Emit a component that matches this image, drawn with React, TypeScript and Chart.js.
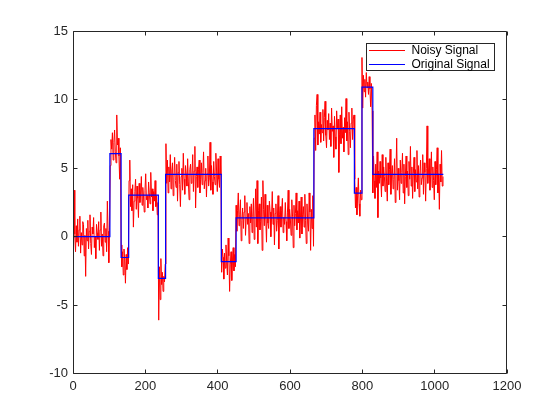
import React, { useEffect, useRef } from "react";
import { Chart, registerables } from "chart.js";

Chart.register(...registerables);

// ---- data ----
const xTickValues = [0, 200, 400, 600, 800, 1000, 1200];
const yTickValues = [-10, -5, 0, 5, 10, 15];

// original (piecewise constant) signal: level holds from each break to the next
const originalBreaks = [1, 102, 133, 154, 236, 256, 410, 451, 666, 778, 799, 829, 1024];
const originalLevels = [0, 6.08, -1.52, 3.04, -3.04, 4.56, -1.82, 1.37, 7.9, 3.19, 10.94, 4.56, 4.56];

// noisy signal, sampled every 2nd index starting at 1
const noisyStart = 1;
const noisyStep = 2;
const noisyValues = [
  // level 0
  -2.3, 3.4, 0.2, -1.1, 0.8, -0.4, 1.3, -0.7, 0.5, 1.5, -1.2, 0.3, -0.6, 1.1, 0.9, -1.4, 0.1, -2.9, 0.6, -0.3,
  1.2, -0.9, 0.4, 1.6, -0.5, -1.3, 0.7, 0.2, 1.4, -0.8, 0.0, -1.6, 0.9, 0.3, -0.2, 1.1, -1.0, 0.5, 1.8, -0.7,
  0.2, -1.4, 0.8, 1.0, -0.4, 0.6, -1.1, 2.6, 0.4, -1.9, 0.7,
  // level 6
  5.2, 7.1, 6.4, 7.6, 5.6, 6.9, 7.8, 6.2, 5.4, 8.9, 6.7, 7.2, 5.9, 4.2, 6.5,
  // level -1.5
  -0.6, -2.2, -1.1, -2.8, -0.9, -1.7, -3.4, -1.3, -2.4, -0.8, -2.0,
  // level 3
  4.1, 5.6, 2.2, 3.5, 1.9, 3.8, 0.7, 2.6, 3.3, 4.2, 2.0, 3.7, 2.8, 1.4, 3.9, 2.5, 3.1, 4.4, 2.3, 3.6,
  2.9, 1.8, 3.4, 4.6, 2.7, 3.0, 2.1, 4.0, 3.2, 2.4, 4.7, 2.9, 3.5, 1.9, 3.3, 2.6, 4.1, 2.2, 3.0, 1.6, 2.5,
  // level -3
  -6.1, -2.2, -4.6, -1.6, -3.5, -2.6, -4.0, -2.9, -3.3, -2.0,
  // level 4.5
  6.8, 3.9, 5.6, 3.2, 5.1, 4.0, 6.0, 3.5, 4.8, 5.4, 3.0, 4.3, 5.8, 4.1, 3.6, 5.3, 2.6, 4.7, 5.5, 3.8,
  2.2, 4.4, 5.0, 3.4, 6.1, 4.2, 3.1, 5.2, 4.6, 3.7, 5.7, 4.0, 2.7, 4.9, 5.3, 3.9, 4.5, 6.0, 3.3, 4.8,
  6.6, 2.1, 4.4, 5.1, 3.6, 4.9, 5.6, 3.2, 4.2, 5.4, 3.8, 4.7, 6.2, 3.5, 4.1, 5.0, 2.9, 4.6, 5.9, 3.7,
  4.3, 6.9, 3.4, 5.2, 4.0, 3.1, 5.5, 4.4, 3.8, 6.1, 4.8, 3.3, 5.7, 4.2, 3.6, 5.9, 4.5,
  // level -1.8
  -2.6, -0.9, -1.5, -3.1, -1.2, -2.3, -0.6, -1.9, -2.8, -0.1, -1.4, -4.0, -2.0, -1.1, -3.2, -1.7, -0.8, -2.5, -1.3, -2.2,
  // level 1.4
  2.3, 0.4, 1.9, 3.2, 0.8, 1.6, 2.7, -0.3, 1.2, 2.1, 0.6, 1.8, 3.0, 0.1, 1.4, 2.5, 0.9, 1.7, -0.5, 2.2,
  1.0, 2.4, 0.3, 1.5, 2.8, -0.2, 1.3, 3.5, 0.7, 4.1, -0.5, 1.9, 2.4, 0.5, 1.1, 2.9, -1.0, 4.1, 2.0, 0.8,
  3.1, 1.4, -0.4, 2.3, 1.0, 0.6, 2.6, 1.8, 0.0, 1.5, 3.3, 0.9, 2.1, -0.6, 1.7, 2.4, 0.4, 1.2, 3.0, -0.9,
  1.6, 2.2, 0.7, 1.9, 2.8, 0.3, 1.4, 0.9, 2.5, 1.1, -0.3, 1.8, 3.4, 0.6, 2.0, 1.3, 0.1, 2.7, 1.5, -0.8,
  2.3, 0.8, 1.7, 3.2, 0.5, 1.9, 1.0, 2.6, -0.1, 1.4, 2.9, 0.2, 1.6, 2.2, 0.7, 3.1, 1.2, -0.5, 2.4, 1.0,
  0.4, 3.2, 1.8, -1.0, 2.0, 0.6, 3.0, -0.7,
  // level 7.9
  7.2, 8.9, 6.3, 9.6, 10.4, 6.7, 8.4, 7.5, 9.1, 6.9, 8.2, 7.6, 9.3, 7.0, 8.7, 9.9, 7.4, 6.5, 8.5, 7.8,
  9.0, 7.1, 8.3, 6.6, 9.4, 7.7, 8.1, 5.8, 8.8, 7.3, 6.4, 9.2, 7.9, 8.6, 4.7, 7.5, 8.9, 6.8, 9.5, 7.2,
  8.0, 6.2, 8.7, 7.6, 10.1, 7.0, 8.4, 6.0, 9.1, 7.7, 6.5, 8.3, 9.4, 7.1, 8.6, 8.9,
  // level 3.2
  4.2, 2.1, 3.6, 1.6, 3.0, 4.3, 2.4, 1.5, 3.4, 2.7,
  // level 10.9
  13.1, 9.4, 11.8, 10.6, 11.5, 10.2, 12.0, 10.9, 11.3, 10.4, 11.7, 10.8, 9.5, 11.2, 9.2,
  // level 4.5
  3.2, 5.9, 4.1, 2.8, 5.3, 3.6, 6.2, 1.4, 4.8, 3.9, 5.5, 4.3, 2.9, 6.0, 3.7, 5.1, 4.4, 3.3, 5.8, 4.0,
  2.6, 5.4, 3.8, 4.9, 6.4, 3.1, 4.6, 5.2, 3.5, 4.2, 5.7, 2.5, 4.5, 7.2, 3.4, 5.0, 4.1, 2.7, 5.6, 3.9,
  4.7, 6.1, 3.2, 5.3, 2.4, 4.4, 5.9, 3.6, 4.8, 3.0, 5.5, 4.2, 6.6, 3.7, 5.1, 2.8, 4.6, 5.8, 3.3, 4.9,
  4.0, 6.3, 3.5, 5.2, 2.9, 4.5, 5.6, 3.8, 4.3, 6.0, 3.1, 5.4, 4.7, 2.6, 5.0, 8.1, 3.9, 4.8, 5.7, 3.4,
  4.4, 6.2, 3.6, 5.1, 4.1, 2.7, 5.5, 3.8, 4.9, 6.5, 3.2, 4.6, 2.0, 5.3, 4.0, 6.3, 3.7, 4.4,
];

const seriesLabels = ["Noisy Signal", "Original Signal"];
const seriesColors = ["#ff0000", "#0000ff"];

const FONT = "'Liberation Sans', Arial, Helvetica, sans-serif";
const AXIS_COLOR = "#262626";

const matlabFrame = {
  id: "matlabFrame",
  afterDraw(chart: any) {
    const { ctx, chartArea: a, scales } = chart;
    ctx.save();
    ctx.strokeStyle = AXIS_COLOR;
    ctx.lineWidth = 1;
    const L = Math.floor(a.left) + 0.5;
    const R = Math.floor(a.right) - 0.5;
    const T = Math.floor(a.top) + 0.5;
    const B = Math.floor(a.bottom) + 0.5;
    ctx.beginPath();
    ctx.rect(L, T, R - L, B - T);
    const tl = 4;
    for (const v of xTickValues) {
      const px = Math.floor(scales.x.getPixelForValue(v)) + 0.5;
      ctx.moveTo(px, B);
      ctx.lineTo(px, B - tl);
      ctx.moveTo(px, T);
      ctx.lineTo(px, T + tl);
    }
    for (const v of yTickValues) {
      const py = Math.floor(scales.y.getPixelForValue(v)) + 0.5;
      ctx.moveTo(L, py);
      ctx.lineTo(L + tl, py);
      ctx.moveTo(R, py);
      ctx.lineTo(R - tl, py);
    }
    ctx.stroke();

    // legend box (top-right, inside axes)
    const bx = 366.5, by = 43.5, bw = 128, bh = 27;
    ctx.fillStyle = "#ffffff";
    ctx.fillRect(bx, by, bw, bh);
    ctx.strokeStyle = AXIS_COLOR;
    ctx.strokeRect(bx, by, bw, bh);
    ctx.font = `12px ${FONT}`;
    ctx.textBaseline = "middle";
    ctx.textAlign = "left";
    const rows = [50.5, 64.5];
    chart.data.datasets.forEach((ds: any, i: number) => {
      const y = rows[i];
      ctx.strokeStyle = ds.borderColor;
      ctx.beginPath();
      ctx.moveTo(369, y);
      ctx.lineTo(405, y);
      ctx.stroke();
      ctx.fillStyle = "#000000";
      ctx.fillText(ds.label, 411.5, y + 0.5);
    });
    ctx.restore();
  },
};

export default function App() {
  const canvasRef = useRef<HTMLCanvasElement | null>(null);

  useEffect(() => {
    if (!canvasRef.current) return;
    const noisyData = noisyValues.map((y, i) => ({ x: noisyStart + i * noisyStep, y }));
    const originalData = originalBreaks.map((x, i) => ({ x, y: originalLevels[i] }));

    const chart = new Chart(canvasRef.current, {
      type: "line",
      data: {
        datasets: [
          {
            label: seriesLabels[0],
            data: noisyData,
            borderColor: seriesColors[0],
            borderWidth: 1,
            pointRadius: 0,
            tension: 0,
            order: 1,
          },
          {
            label: seriesLabels[1],
            data: originalData,
            borderColor: seriesColors[1],
            borderWidth: 1.2,
            pointRadius: 0,
            stepped: "before",
            order: 0,
          },
        ],
      },
      options: {
        animation: false,
        responsive: false,
        events: [],
        layout: { padding: { left: 0, top: 31.5, right: 53, bottom: 0 } },
        plugins: {
          legend: { display: false },
          tooltip: { enabled: false },
        },
        scales: {
          x: {
            type: "linear",
            min: 0,
            max: 1200,
            afterBuildTicks: (scale: any) => {
              scale.ticks = xTickValues.map((v) => ({ value: v }));
            },
            afterFit: (scale: any) => {
              scale.height = 46.5;
            },
            ticks: {
              color: AXIS_COLOR,
              font: { family: FONT, size: 13 },
              padding: 5,
              maxRotation: 0,
              autoSkip: false,
              callback: (v: any) => String(v),
            },
            grid: { display: false, drawTicks: false },
            border: { display: false },
          },
          y: {
            type: "linear",
            min: -10,
            max: 15,
            afterBuildTicks: (scale: any) => {
              scale.ticks = yTickValues.map((v) => ({ value: v }));
            },
            afterFit: (scale: any) => {
              scale.width = 73;
            },
            ticks: {
              color: AXIS_COLOR,
              font: { family: FONT, size: 13 },
              padding: 5,
              autoSkip: false,
              callback: (v: any) => String(v),
            },
            grid: { display: false, drawTicks: false },
            border: { display: false },
          },
        },
      },
      plugins: [matlabFrame],
    });
    return () => chart.destroy();
  }, []);

  return (
    <div style={{ position: "fixed", left: 0, top: 0, width: 560, height: 420, background: "#fff" }}>
      <canvas ref={canvasRef} width={560} height={420} style={{ width: 560, height: 420 }} />
    </div>
  );
}
